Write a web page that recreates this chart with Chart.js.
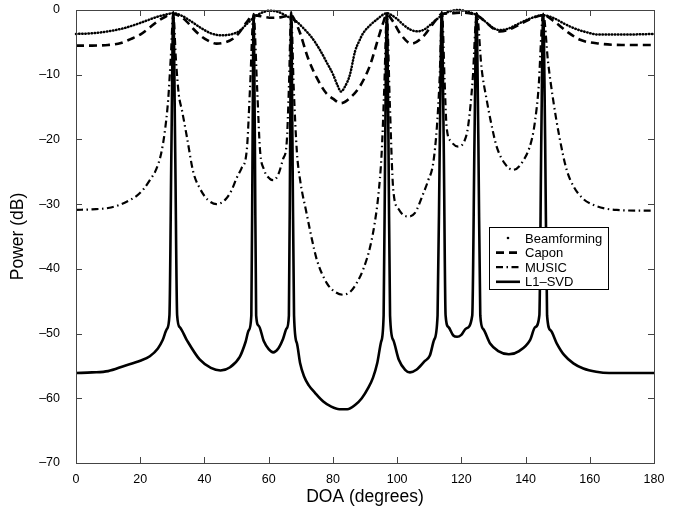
<!DOCTYPE html>
<html>
<head>
<meta charset="utf-8">
<script src="https://cdn.jsdelivr.net/npm/chart.js@4.4.1/dist/chart.umd.min.js"></script>
<style>
  html, body { margin: 0; padding: 0; background: #fff; }
  #wrap { width: 679px; height: 516px; }
</style>
</head>
<body>
<div id="wrap"><canvas id="myChart" width="679" height="516"></canvas></div>
<script>
"use strict";

// ========== DATA ==========
const xTicks = [0, 20, 40, 60, 80, 100, 120, 140, 160, 180];
const yTicks = [-70, -60, -50, -40, -30, -20, -10, 0];

const bfDeg = [0, 5, 10, 15, 20, 25, 28, 30.3, 33, 36, 39, 42, 45, 48, 51, 53.5, 55.3, 57.5, 60.4, 63, 65.5, 67, 68.7, 71, 73.5, 76, 78.3, 80.1, 81.4, 82.5, 83.8, 85.3, 86.9, 88.2, 89.4, 91.5, 93.6, 96.8, 99.5, 102, 104, 106.3, 108.5, 111, 114, 116.5, 119, 121.5, 124.8, 127.5, 130, 132, 134.5, 137.5, 141, 145.5, 149, 152, 155, 158, 163, 170, 180];
const bfPow = [-3.7, -3.6, -3.3, -2.8, -2.0, -1.1, -0.7, -0.5, -0.9, -1.8, -2.8, -3.6, -3.9, -3.8, -3.2, -2.0, -1.2, -0.5, -0.1, -0.3, -0.9, -1.3, -1.8, -2.9, -4.3, -6.2, -8.3, -10.0, -11.6, -12.6, -11.8, -10.0, -6.4, -4.8, -3.6, -2.4, -1.5, -0.5, -1.2, -2.3, -3.0, -3.3, -3.0, -2.0, -0.8, -0.2, 0, -0.2, -0.8, -1.8, -2.8, -3.1, -2.9, -2.2, -1.4, -0.8, -1.3, -2.1, -2.8, -3.3, -3.8, -3.8, -3.7];

const caponDeg = [0, 5, 10, 14, 17, 20, 23, 25.5, 28, 30.3, 32.5, 34.5, 36.5, 38.6, 41, 43.8, 46.5, 49, 51, 53, 55.3, 58, 61, 64, 67, 68.5, 69.8, 72.3, 75, 78, 80, 82.5, 85.3, 88.4, 91.6, 94, 95.5, 96.8, 99, 100.9, 104.5, 108.1, 111.2, 114, 117, 120, 122.5, 124.8, 127.5, 130, 132, 134.5, 137.5, 141, 145.5, 149, 152.8, 157, 163, 170, 180];
const caponPow = [-5.5, -5.5, -5.4, -5.1, -4.5, -3.8, -2.7, -1.7, -1.0, -0.6, -1.0, -1.8, -2.9, -3.9, -4.7, -5.2, -5.0, -4.4, -3.4, -2.0, -0.8, -1.0, -1.2, -1.1, -0.8, -2.0, -3.6, -7.5, -10.5, -12.9, -13.7, -14.4, -13.6, -11.8, -8.5, -4.6, -2.2, -0.7, -2.0, -3.6, -5.2, -4.1, -2.1, -0.6, -0.5, -0.4, -0.5, -0.8, -1.8, -2.9, -3.3, -3.1, -2.4, -1.5, -0.8, -1.8, -3.3, -4.6, -5.2, -5.4, -5.4];

const musicDeg = [0, 5, 10, 13.7, 17, 19, 21, 23, 25, 26.5, 27.6, 28.7, 29.5, 30.3, 31.1, 32, 33, 34.5, 36.5, 38.5, 41, 43.8, 46.5, 48.5, 50, 51.5, 53.2, 54.2, 55.3, 56.4, 57.3, 58.5, 60.4, 61.5, 63, 64.5, 65.6, 66.3, 67, 67.8, 68.8, 69.8, 71.8, 73.5, 75, 78.1, 80.5, 83.2, 85.5, 87.4, 89.5, 91.6, 93, 94.1, 95.2, 96, 96.8, 97.7, 98.8, 100.5, 102, 103.5, 105.5, 108.2, 109.7, 111.2, 112.4, 113.2, 114, 114.8, 115.4, 116.8, 119, 121, 122.1, 123.5, 124.8, 126.3, 127.9, 129.5, 131, 133.5, 136.1, 139, 141.9, 143, 144, 145.5, 147, 148.6, 150.5, 152.8, 155, 158, 161, 165, 168.4, 175, 180];
const musicPow = [-30.9, -30.8, -30.6, -30.1, -29.3, -28.7, -27.7, -26.3, -24.6, -22.2, -19.0, -13.9, -7.5, -0.5, -7.5, -13.0, -15.5, -19.5, -25.0, -27.5, -29.3, -30.0, -29.3, -27.8, -26.0, -24.5, -21.6, -12, -0.6, -12, -21.6, -24.6, -26.1, -26.3, -25.4, -23.0, -20.6, -12, -0.5, -12, -22.0, -26.3, -31.4, -35.5, -38.6, -42.2, -43.5, -44.0, -43.5, -42.2, -40.0, -36.6, -33.0, -28.9, -22, -12, -0.5, -14, -27.8, -30.8, -31.7, -31.9, -31.4, -28.3, -26.3, -23.8, -18, -11, -0.5, -11, -18, -20.3, -21.1, -20.2, -18, -11, -0.5, -9, -13.9, -18, -21.1, -23.7, -24.7, -23.5, -20.1, -17, -12.4, -0.5, -8, -13.9, -19.5, -24.7, -27.3, -29.2, -30.1, -30.7, -30.9, -31.0, -31.0];

const l1Deg = [0, 5, 10, 15, 20, 23, 25.5, 27, 28.3, 29.1, 29.7, 30.3, 30.9, 31.5, 32.3, 34.5, 38.5, 42, 45, 48, 51, 52.8, 53.8, 54.6, 55.0, 55.3, 55.7, 56.1, 56.9, 58.5, 60, 61.4, 63, 64.5, 65.6, 66.3, 66.7, 67.0, 67.4, 67.9, 68.8, 69.8, 71, 72.5, 74.5, 77, 79.5, 82, 84.5, 87, 89, 91, 92.5, 93.8, 95, 95.8, 96.3, 96.8, 97.3, 97.8, 98.8, 100.5, 102.5, 104, 106, 108.5, 110.2, 111.5, 112.6, 113.3, 113.9, 114.5, 115.1, 116, 117.5, 118.7, 120, 121.5, 123.4, 124.1, 124.7, 125.3, 125.9, 126.8, 128.9, 131.5, 134.8, 138, 141.4, 143, 144.3, 144.9, 145.5, 146.1, 146.7, 147.8, 149.7, 152, 154.9, 158, 162, 166, 172, 180];
const l1Pow = [-56.1, -56.0, -55.8, -55.0, -54.2, -53.5, -52.3, -51.0, -49.3, -47.2, -22, -0.3, -22, -47.2, -49.0, -51.0, -54.0, -55.3, -55.7, -55.2, -53.6, -51.3, -49.5, -47.2, -20, -0.8, -20, -47.2, -48.8, -51.2, -52.4, -52.9, -52.3, -50.8, -49.2, -47.2, -20, -0.3, -20, -47.2, -51.5, -54.6, -56.6, -58.0, -59.2, -60.5, -61.3, -61.7, -61.7, -61.0, -60.0, -58.4, -56.8, -54.6, -51.3, -47.2, -20, -0.5, -20, -47.2, -51.0, -54.0, -55.6, -56.0, -55.6, -54.3, -53.4, -51.0, -47.2, -20, -0.3, -20, -47.2, -49.0, -50.3, -50.5, -50.2, -49.2, -47.2, -20, -0.5, -20, -47.2, -49.3, -51.5, -52.7, -53.2, -52.7, -51.0, -49.0, -47.2, -20, -0.6, -20, -47.2, -49.5, -51.5, -53.3, -54.6, -55.4, -55.9, -56.1, -56.1, -56.1];

function pts(xs, ys) {
  return xs.map((x, i) => ({ x: x, y: ys[i] }));
}

const FONT = "'Liberation Sans', Arial, Helvetica, sans-serif";

// ========== PLUGIN: khung + vạch chia hướng vào trong ==========
const frameTicks = {
  id: "frameTicks",
  afterDatasetsDraw(chart) {
    const ctx = chart.ctx;
    const a = chart.chartArea;
    const xs = chart.scales.x, ys = chart.scales.y;
    const len = 6;
    ctx.save();
    ctx.strokeStyle = "#444";
    ctx.lineWidth = 1;
    ctx.beginPath();
    xTicks.forEach(v => {
      const px = Math.round(xs.getPixelForValue(v)) + 0.5;
      ctx.moveTo(px, a.bottom); ctx.lineTo(px, a.bottom - len);
      ctx.moveTo(px, a.top); ctx.lineTo(px, a.top + len);
    });
    yTicks.forEach(v => {
      const py = Math.round(ys.getPixelForValue(v)) + 0.5;
      ctx.moveTo(a.left, py); ctx.lineTo(a.left + len, py);
      ctx.moveTo(a.right, py); ctx.lineTo(a.right - len, py);
    });
    ctx.stroke();
    ctx.strokeRect(Math.round(a.left) + 0.5, Math.round(a.top) + 0.5,
      Math.round(a.right - a.left), Math.round(a.bottom - a.top));
    ctx.restore();
  }
};

// ========== PLUGIN: chú thích trong vùng vẽ ==========
const boxLegend = {
  id: "boxLegend",
  afterDraw(chart) {
    const ctx = chart.ctx;
    const bx = 489.5, by = 227.5, bw = 119, bh = 62;
    ctx.save();
    ctx.fillStyle = "#fff";
    ctx.fillRect(bx, by, bw, bh);
    ctx.strokeStyle = "#000";
    ctx.lineWidth = 1;
    ctx.strokeRect(bx, by, bw, bh);
    ctx.font = "13px " + FONT;
    ctx.textBaseline = "middle";
    chart.data.datasets.forEach((ds, i) => {
      const y = 238 + i * 14.6;
      ctx.strokeStyle = "#000";
      ctx.fillStyle = "#000";
      ctx.lineWidth = ds.borderWidth;
      ctx.lineCap = ds.borderCapStyle || "butt";
      if (i === 0) {
        ctx.beginPath();
        ctx.arc(508, y, 1.3, 0, Math.PI * 2);
        ctx.fill();
      } else {
        ctx.setLineDash(ds.borderDash || []);
        ctx.beginPath();
        ctx.moveTo(496, y);
        ctx.lineTo(520, y);
        ctx.stroke();
        ctx.setLineDash([]);
      }
      ctx.fillText(ds.label, 525, y + 1);
    });
    ctx.restore();
  }
};

// ========== BIỂU ĐỒ ==========
const ctx = document.getElementById("myChart").getContext("2d");
new Chart(ctx, {
  type: "line",
  data: {
    datasets: [
      {
        label: "Beamforming",
        data: pts(bfDeg, bfPow),
        borderColor: "#000",
        borderWidth: 2.5,
        borderDash: [0.5, 2.6],
        borderCapStyle: "round",
        pointRadius: 0,
        cubicInterpolationMode: "monotone",
        clip: 4
      },
      {
        label: "Capon",
        data: pts(caponDeg, caponPow),
        borderColor: "#000",
        borderWidth: 2.6,
        borderDash: [8, 5],
        pointRadius: 0,
        cubicInterpolationMode: "monotone",
        clip: 4
      },
      {
        label: "MUSIC",
        data: pts(musicDeg, musicPow),
        borderColor: "#000",
        borderWidth: 2.2,
        borderDash: [7, 3.5, 1.5, 3.5],
        pointRadius: 0,
        cubicInterpolationMode: "monotone",
        clip: 4
      },
      {
        label: "L1–SVD",
        data: pts(l1Deg, l1Pow),
        borderColor: "#000",
        borderWidth: 2.6,
        pointRadius: 0,
        cubicInterpolationMode: "monotone",
        clip: 4
      }
    ]
  },
  options: {
    responsive: false,
    animation: false,
    events: [],
    layout: { autoPadding: false, padding: { top: 10, right: 25, left: 0, bottom: 0 } },
    plugins: {
      legend: { display: false },
      tooltip: { enabled: false }
    },
    scales: {
      x: {
        type: "linear",
        min: 0,
        max: 180,
        afterFit: s => { s.height = 53; s.paddingLeft = 0; s.paddingRight = 0; },
        afterBuildTicks: s => { s.ticks = xTicks.map(v => ({ value: v })); },
        grid: { display: false },
        border: { display: false },
        ticks: {
          padding: 1,
          color: "#000",
          font: { family: FONT, size: 12.5 },
          maxRotation: 0
        },
        title: {
          display: true,
          text: "DOA (degrees)",
          color: "#000",
          font: { family: FONT, size: 17.5 },
          padding: { top: 4, bottom: 8 }
        }
      },
      y: {
        type: "linear",
        min: -70,
        max: 0,
        afterFit: s => { s.width = 76; s.paddingTop = 0; s.paddingBottom = 0; },
        afterBuildTicks: s => { s.ticks = yTicks.map(v => ({ value: v })); },
        grid: { display: false },
        border: { display: false },
        ticks: {
          padding: 8,
          color: "#000",
          font: { family: FONT, size: 12.5 },
          callback: v => String(v).replace("-", "\u2013")
        },
        title: {
          display: true,
          text: "Power (dB)",
          color: "#000",
          font: { family: FONT, size: 17.5 },
          padding: { top: 8, bottom: 0 }
        }
      }
    }
  },
  plugins: [frameTicks, boxLegend]
});
</script>
</body>
</html>
